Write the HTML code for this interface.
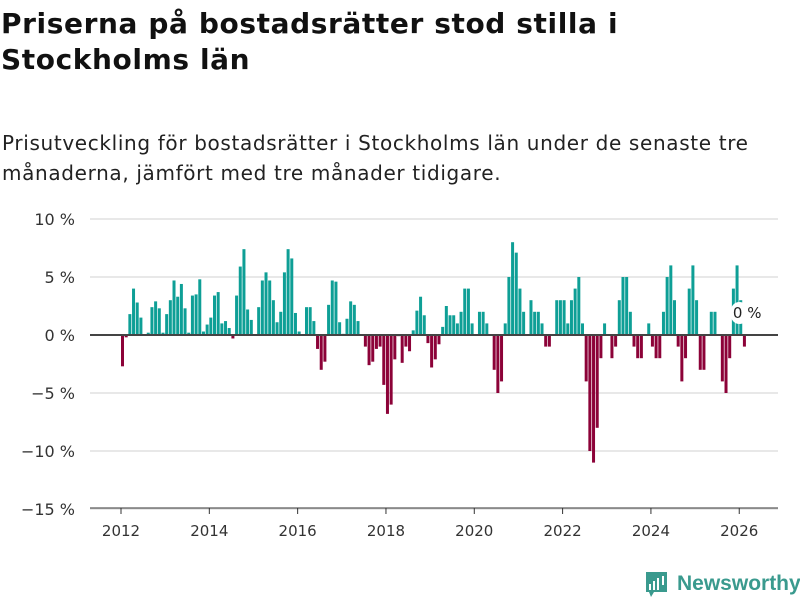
<!DOCTYPE html>
<html><head><meta charset="utf-8">
<style>
body{margin:0;background:#fff;width:800px;height:600px;overflow:hidden;font-family:"Liberation Sans","DejaVu Sans",sans-serif;color:#111}
h1{position:absolute;left:1px;top:6px;margin:0;font-family:"DejaVu Sans","Liberation Sans",sans-serif;font-size:28px;line-height:36px;font-weight:bold;letter-spacing:0.6px;white-space:nowrap}
p.sub{position:absolute;left:2px;top:128px;margin:0;font-family:"DejaVu Sans","Liberation Sans",sans-serif;font-size:20px;line-height:30px;color:#222;letter-spacing:0.65px;white-space:nowrap}
svg{position:absolute;left:0;top:0}
</style></head><body>
<h1>Priserna på bostadsrätter stod stilla i<br>Stockholms län</h1>
<p class="sub">Prisutveckling för bostadsrätter i Stockholms län under de senaste tre<br>månaderna, jämfört med tre månader tidigare.</p>
<svg id="chart" width="800" height="600"></svg>
<script>
const startYear = 2012;
const values = [-2.7,-0.2,1.8,4.0,2.8,1.5,0,0.2,2.4,2.9,2.3,0.2,1.8,3.0,4.7,3.3,4.4,2.3,0.2,3.4,3.5,4.8,0.3,0.9,1.5,3.4,3.7,1.0,1.2,0.6,-0.3,3.4,5.9,7.4,2.2,1.3,0,2.4,4.7,5.4,4.7,3.0,1.1,2.0,5.4,7.4,6.6,1.9,0.3,0,2.4,2.4,
1.2,-1.2,-3.0,-2.3,2.6,4.7,4.6,1.1,0.1,1.4,2.9,2.6,1.2,0,-1.0,-2.6,-2.3,-1.2,-1.0,-4.3,-6.8,-6.0,-2.1,-0.1,-2.4,-1.0,-1.4,0.4,2.1,3.3,1.7,-0.7,-2.8,-2.1,-0.8,0.7,2.5,1.7,1.7,1.0,2.0,4.0,4.0,1.0,0,2.0,2.0,1.0,0,-3.0,-5.0,-4.0,1.0,5.0,8.0,7.1,4.0,2.0,0,3.0,2.0,2.0,1.0,
-1,-1,0,3,3,3,1,3,4,5,1,-4,-10,-11,-8,-2,1,0,-2,-1,3,5,5,2,-1,-2,-2,0,1,-1,-2,-2,2,5,6,3,-1,-4,-2,4,6,3,-3,-3,0,2,2,0,-4,-5,-2,4,6,3,-1];
const yTicks = [10,5,0,-5,-10,-15];
const yTickLabels = ["10 %","5 %","0 %","−5 %","−10 %","−15 %"];
const xTickYears = [2012,2014,2016,2018,2020,2022,2024,2026];
const lastLabel = "0 %";

const NS="http://www.w3.org/2000/svg";
const svg=document.getElementById('chart');
const x0=121, pxPerMonth=3.68;
const xOf=m=>x0+m*pxPerMonth;
const yOf=v=>335-v*11.6;
function mk(t,a){const e=document.createElementNS(NS,t);for(const k in a)e.setAttribute(k,a[k]);svg.appendChild(e);return e;}
yTicks.forEach((v,i)=>{
  const g=mk('line',{x1:90,x2:778,y1:yOf(v),y2:yOf(v),stroke:'#e0e0e0','stroke-width':1.5});
  
  
  const t=mk('text',{x:75,y:yOf(v)+6,'text-anchor':'end','font-size':16,fill:'#333','font-family':'DejaVu Sans, sans-serif'});
  t.textContent=yTickLabels[i];
  
  
});
xTickYears.forEach(yr=>{
  const x=xOf((yr-startYear)*12);
  const l=mk('line',{x1:x,x2:x,y1:508,y2:514,stroke:'#333','stroke-width':1});
  
  
  const t=mk('text',{x:x,y:536,'text-anchor':'middle','font-size':15,fill:'#333','font-family':'DejaVu Sans, sans-serif'});
  t.textContent=yr;
  
  
});
const ax=mk('line',{x1:90,x2:778,y1:508,y2:508,stroke:'#333','stroke-width':1});


values.forEach((v,i)=>{
  if(v===0)return;
  const y=Math.min(yOf(v),yOf(0)), h=Math.abs(yOf(v)-yOf(0));
  const r=mk('rect',{x:xOf(i),y:y,width:3,height:h,fill:v>0?'#0e9f96':'#8c0238'});
  
  
});
const zl=mk('line',{x1:90,x2:778,y1:yOf(0),y2:yOf(0),stroke:'#444','stroke-width':2});


const lx=xOf(values.length-1)-10;
const bg=mk('rect',{x:lx-2,y:302,width:17,height:22,rx:8.5,fill:'#fff'});


const lt=mk('text',{x:lx,y:318,'font-size':15,fill:'#222','font-family':'DejaVu Sans, sans-serif'});
lt.textContent=lastLabel;


// logo
const lg=mk('g',{});


const ic=document.createElementNS(NS,'path');
ic.setAttribute('d','M646 572h21v20h-13l-3 5-2-5h-3z');
ic.setAttribute('fill','#3a9a8e');
lg.appendChild(ic);
[[649,584,2,6],[653,581,2,9],[657,578,2,12],[662,576,2,9]].forEach(b=>{
  const r=document.createElementNS(NS,'rect');
  r.setAttribute('x',b[0]);r.setAttribute('y',b[1]);r.setAttribute('width',b[2]);r.setAttribute('height',b[3]);r.setAttribute('fill','#fff');
  lg.appendChild(r);
});
const lt2=document.createElementNS(NS,'text');
lt2.setAttribute('x',677);lt2.setAttribute('y',590);lt2.setAttribute('font-size',21);lt2.setAttribute('font-weight','bold');lt2.setAttribute('fill','#3a9a8e');lt2.setAttribute('font-family','Liberation Sans, sans-serif');
lt2.textContent='Newsworthy';
lg.appendChild(lt2);
</script>
</body></html>
